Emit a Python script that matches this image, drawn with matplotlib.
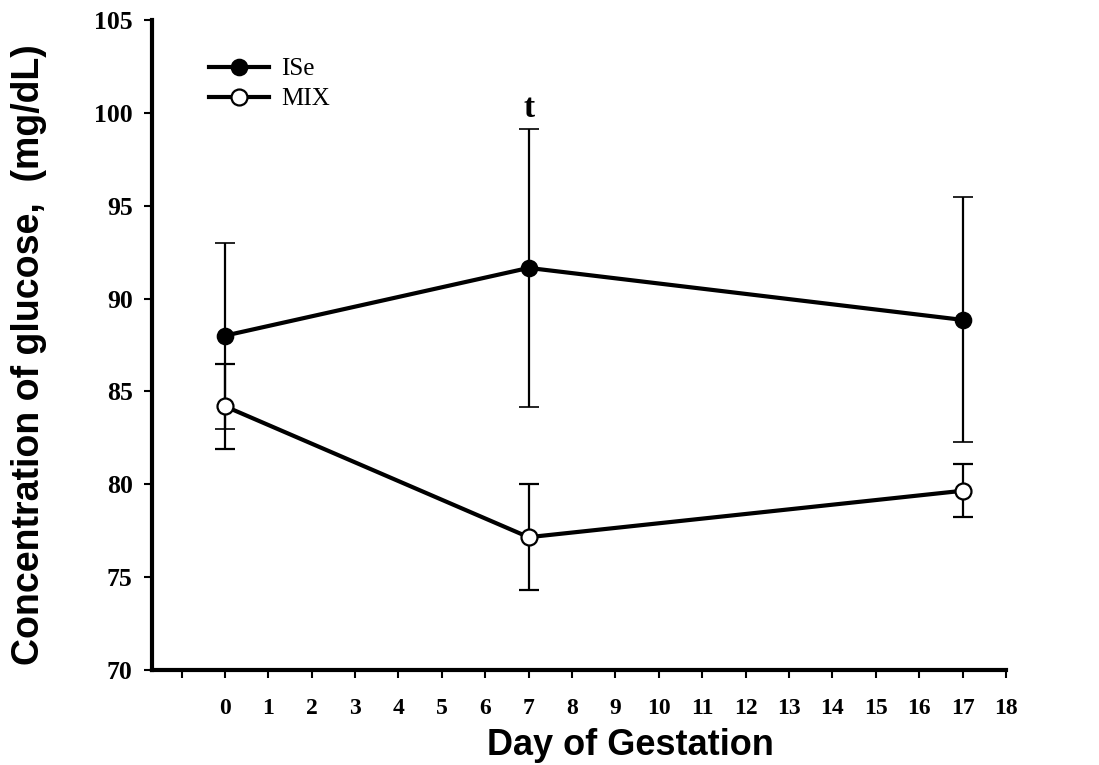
import matplotlib
matplotlib.use("Agg")
import matplotlib.pyplot as plt
from matplotlib.lines import Line2D

days = [0, 7, 17]
ise_mean = [88.0, 91.65, 88.85]
ise_err = [5.0, 7.5, 6.6]
mix_mean = [84.2, 77.15, 79.65]
mix_err = [2.3, 2.85, 1.43]
xticks = list(range(0, 19))
yticks = [70, 75, 80, 85, 90, 95, 100, 105]

fig = plt.figure(figsize=(10.99, 7.65), dpi=100)
ax = fig.add_axes([0.1383, 0.1242, 0.9154 - 0.1383, 0.9739 - 0.1242])

serif = "Liberation Serif"
sans = "Liberation Sans"

ax.errorbar(days, ise_mean, yerr=ise_err, color="black", lw=3, marker="o",
            ms=11.5, mfc="black", mec="black", mew=1.2, ecolor="black",
            elinewidth=1.6, capsize=7, capthick=1.6, zorder=3)
ax.errorbar(days, mix_mean, yerr=mix_err, color="black", lw=3, marker="o",
            ms=11.5, mfc="white", mec="black", mew=1.6, ecolor="black",
            elinewidth=1.6, capsize=7, capthick=1.6, zorder=3)

ax.set_xlim(-1.68, 18)
ax.set_ylim(70, 105)
ax.set_yticks(yticks)
ax.set_xticks([-1] + xticks)
ax.set_xticklabels([""] + [str(v) for v in xticks])

for s in ["top", "right"]:
    ax.spines[s].set_visible(False)
for s in ["left", "bottom"]:
    ax.spines[s].set_linewidth(3)

ax.tick_params(axis="both", direction="out", length=6, width=1.5)
ax.tick_params(axis="y", pad=8)
ax.tick_params(axis="x", pad=14)
for lab in ax.get_xticklabels():
    lab.set_fontfamily(serif)
    lab.set_fontweight("bold")
    lab.set_fontsize(17)
for lab in ax.get_yticklabels():
    lab.set_fontfamily(serif)
    lab.set_fontweight("bold")
    lab.set_fontsize(18.5)

ax.set_xlabel("Day of Gestation", fontfamily=sans, fontweight="bold",
              fontsize=26)
ax.set_ylabel("Concentration of glucose,  (mg/dL)", fontfamily=sans,
              fontweight="bold", fontsize=27)
ax.xaxis.set_label_coords(0.56, -0.09)
ax.yaxis.set_label_coords(-0.123, 0.485)

ax.text(7, 99.4, "t", fontfamily=serif, fontweight="bold", fontsize=24,
        ha="center", va="bottom")

handles = [
    Line2D([], [], color="black", lw=3, marker="o", ms=11.5, mfc="black",
           mec="black", mew=1.2),
    Line2D([], [], color="black", lw=3, marker="o", ms=11.5, mfc="white",
           mec="black", mew=1.6),
]
ax.legend(handles, ["ISe", "MIX"], loc="upper left",
          bbox_to_anchor=(0.055, 0.957), frameon=False,
          handlelength=2.4, handletextpad=0.5, labelspacing=0.3,
          borderaxespad=0, prop={"family": serif, "size": 18})

fig.savefig("out.png", dpi=100)
